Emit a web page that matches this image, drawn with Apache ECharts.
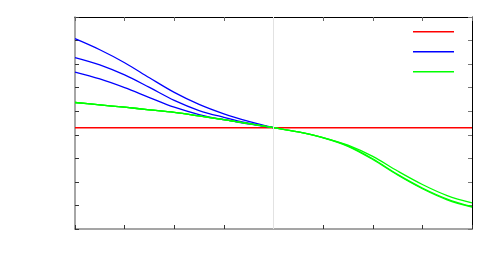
<!DOCTYPE html>
<html>
<head>
<meta charset="utf-8">
<script src="https://cdn.jsdelivr.net/npm/echarts@6/dist/echarts.min.js"></script>
<style>html,body{margin:0;padding:0;background:#fff}#c{width:500px;height:279px}</style>
</head>
<body>
<div id="c"></div>
<script>
// x positions (left half and right half)
var xLeft = [0, 0.5, 1, 1.5, 2, 2.5, 3, 3.5, 4];
var xRight = [4, 4.5, 5, 5.5, 6, 6.5, 7, 7.5, 8];
var xFull = [0, 8];

// red reference line
var redValues = [4.30, 4.30];

// blue curves (left half)
var blueTop = [8.08, 7.61, 7.06, 6.42, 5.80, 5.29, 4.89, 4.57, 4.30];
var blueMid = [7.28, 6.97, 6.54, 6.01, 5.46, 5.03, 4.74, 4.49, 4.30];
var blueLow = [6.66, 6.37, 6.00, 5.58, 5.17, 4.86, 4.64, 4.46, 4.30];

// green curves
var greenLeft = [5.37, 5.27, 5.17, 5.06, 4.95, 4.80, 4.64, 4.47, 4.30];
var greenRightUpper = [4.30, 4.12, 3.88, 3.56, 3.08, 2.46, 1.89, 1.42, 1.11];
var greenRightLowerA = [4.30, 4.12, 3.88, 3.53, 2.98, 2.32, 1.74, 1.27, 0.95];
var greenRightLowerB = [4.30, 4.12, 3.87, 3.51, 2.95, 2.29, 1.71, 1.24, 0.93];

var gridX = 4;

function pairs(xs, ys) { return xs.map(function (x, i) { return [x, ys[i]]; }); }
function joinGreen(right) { return pairs(xLeft, greenLeft).concat(pairs(xRight, right).slice(1)); }

var chart = echarts.init(document.getElementById('c'), null, {renderer: 'canvas'});
var lw = 1.3;
function lineSeries(name, color, data) {
  return {
    name: name, type: 'line', data: data, smooth: 0.35, showSymbol: false, symbol: 'none',
    lineStyle: {color: color, width: lw}, itemStyle: {color: color}, animation: false, z: 3
  };
}
var series = [
  Object.assign(lineSeries('a', '#ff0000', pairs(xFull, redValues)), {
    smooth: false,
    markLine: {
      silent: true, symbol: 'none', label: {show: false},
      lineStyle: {color: '#e2e2e2', width: 1, type: 'solid'},
      data: [{xAxis: gridX}]
    }
  }),
  lineSeries('b', '#0000ff', pairs(xLeft, blueTop)),
  lineSeries('b', '#0000ff', pairs(xLeft, blueMid)),
  lineSeries('b', '#0000ff', pairs(xLeft, blueLow)),
  lineSeries('c', '#00ff00', joinGreen(greenRightUpper)),
  lineSeries('c', '#00ff00', joinGreen(greenRightLowerA)),
  lineSeries('c', '#00ff00', joinGreen(greenRightLowerB))
];
series[0].z = 2;
series[0].lineStyle.width = 1.5;

var tick = {show: true, inside: true, length: 4, lineStyle: {color: '#333', width: 1}};
chart.setOption({
  animation: false,
  backgroundColor: '#fff',
  grid: {left: 75, right: 28, top: 17, bottom: 50, containLabel: false},
  legend: {
    orient: 'vertical', left: 413, top: 31, padding: 0, itemWidth: 41, itemHeight: 1.5, itemGap: 18.5,
    icon: 'rect', formatter: function () { return ''; }, selectedMode: false,
    data: ['a', 'b', 'c'], textStyle: {fontSize: 1, lineHeight: 1}
  },
  xAxis: [
    {type: 'value', min: 0, max: 8, interval: 1, position: 'bottom',
     axisLine: {show: true, onZero: false, lineStyle: {color: '#888', width: 1.5}}, axisTick: tick,
     axisLabel: {show: false}, splitLine: {show: false}},
    {type: 'value', min: 0, max: 8, interval: 1, position: 'top',
     axisLine: {show: true, onZero: false, lineStyle: {color: '#000', width: 1}}, axisTick: {show: true, inside: true, length: 4, lineStyle: {color: '#666'}},
     axisLabel: {show: false}, splitLine: {show: false}}
  ],
  yAxis: [
    {type: 'value', min: 0, max: 9, interval: 1, position: 'left',
     axisLine: {show: true, onZero: false, lineStyle: {color: '#888', width: 1.5}}, axisTick: tick,
     axisLabel: {show: false}, splitLine: {show: false}},
    {type: 'value', min: 0, max: 9, interval: 1, position: 'right',
     axisLine: {show: true, onZero: false, lineStyle: {color: '#000', width: 1}}, axisTick: {show: true, inside: true, length: 4, lineStyle: {color: '#777'}},
     axisLabel: {show: false}, splitLine: {show: false}}
  ],
  series: series
});
</script>
</body>
</html>
